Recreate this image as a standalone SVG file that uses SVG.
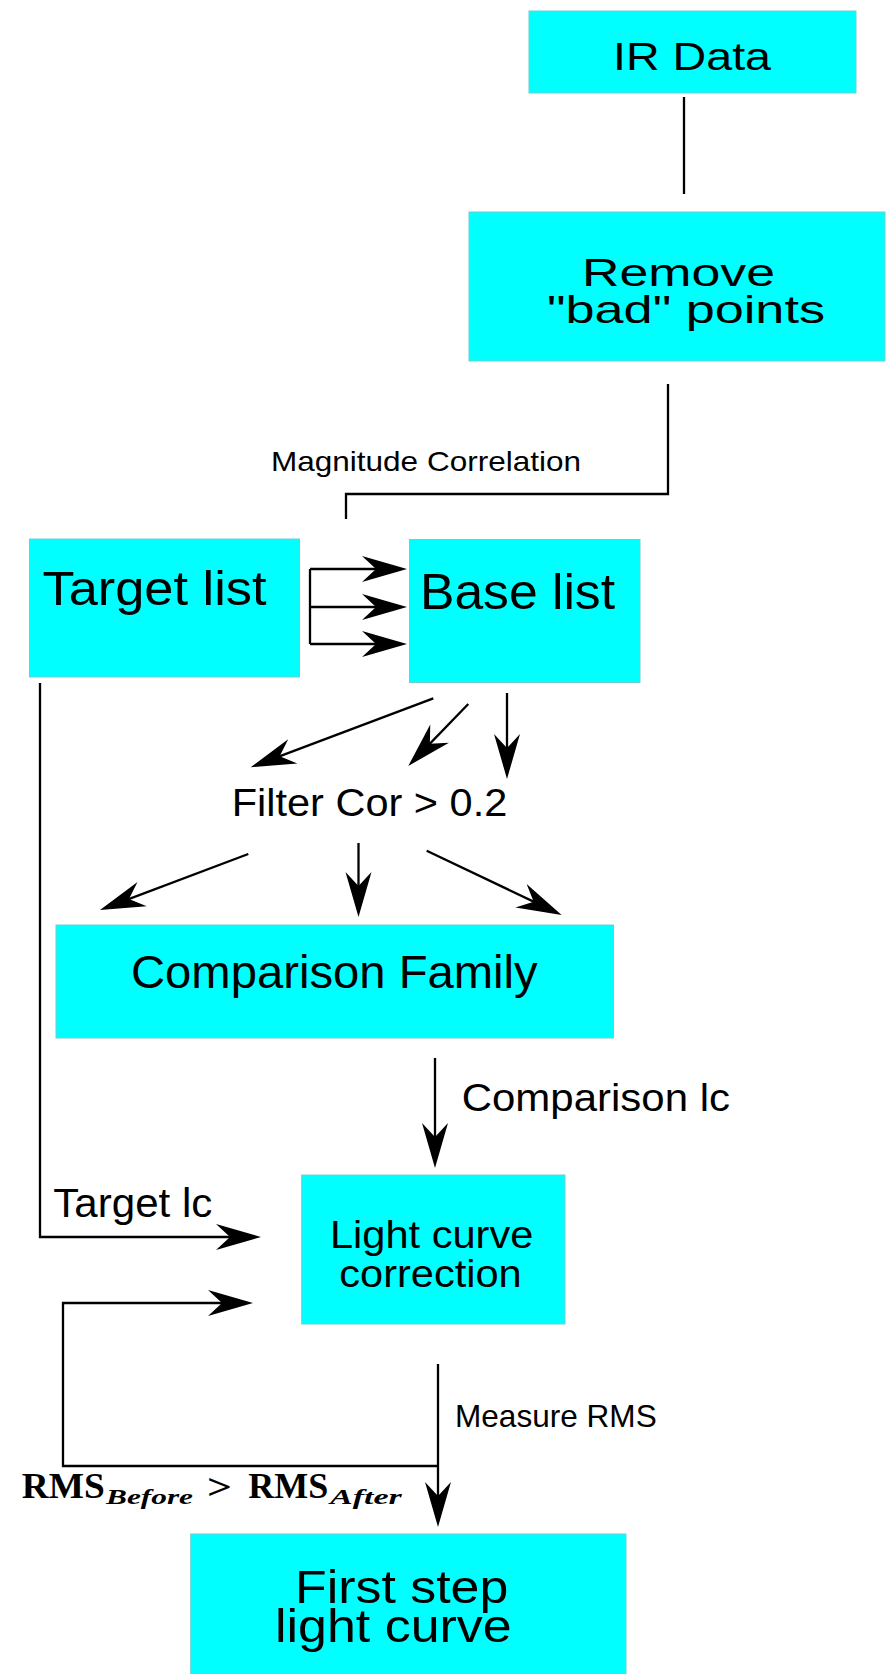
<svg xmlns="http://www.w3.org/2000/svg" width="887" height="1674" viewBox="0 0 887 1674">
<defs>
<style>
.box{fill:#00ffff;stroke:#6fcfcf;stroke-width:1}
.t{font-family:"Liberation Sans",Arial,Helvetica,sans-serif;fill:#000}
.m{font-family:"Liberation Serif","Times New Roman",serif;font-weight:bold;fill:#000}
.ln{fill:none;stroke:#000;stroke-width:2.3}
.ar{fill:none;stroke:#000;stroke-width:2.3;marker-end:url(#ah)}
</style>
<marker id="ah" markerUnits="userSpaceOnUse" markerWidth="50" markerHeight="30" viewBox="-46 -15 50 30" refX="-20" refY="0" orient="auto" overflow="visible">
<path d="M0,0 L-45,-13 L-31,0 L-45,13 Z" fill="#000"/>
</marker>
</defs>
<rect width="887" height="1674" fill="#fff"/>

<g id="connectors">
<line class="ln" x1="684" y1="97" x2="684" y2="194"/>
<polyline class="ln" points="668,384 668,494 346,494 346,519"/>
<line class="ln" x1="310" y1="569" x2="310" y2="644"/>
<line class="ar" x1="310" y1="569" x2="387" y2="569"/>
<line class="ar" x1="310" y1="607" x2="387" y2="607"/>
<line class="ar" x1="310" y1="644" x2="387" y2="644"/>
<line class="ar" x1="433.3" y1="698.3" x2="269.4" y2="760.2"/>
<line class="ar" x1="468.3" y1="704" x2="422.2" y2="751.6"/>
<line class="ar" x1="507" y1="693" x2="507" y2="759"/>
<line class="ar" x1="248.3" y1="854" x2="118.7" y2="902.9"/>
<line class="ar" x1="358.5" y1="843" x2="358.5" y2="897"/>
<line class="ar" x1="426.7" y1="850.7" x2="543.6" y2="906.4"/>
<line class="ar" x1="435" y1="1058" x2="435" y2="1148"/>
<polyline class="ar" points="40,683 40,1237 241,1237"/>
<polyline class="ar" points="438,1466 63,1466 63,1303 233,1303"/>
<line class="ar" x1="438" y1="1364" x2="438" y2="1507"/>
</g>

<g id="n-irdata">
<rect class="box" x="529" y="11" width="327" height="82"/>
<text class="t" x="613" y="70" font-size="38" textLength="158" lengthAdjust="spacingAndGlyphs">IR Data</text>
</g>

<g id="n-remove">
<rect class="box" x="469" y="212" width="416" height="149"/>
<text class="t" x="582" y="286" font-size="39" textLength="193" lengthAdjust="spacingAndGlyphs">Remove</text>
<text class="t" x="547" y="323" font-size="39" textLength="278" lengthAdjust="spacingAndGlyphs">"bad" points</text>
</g>

<g id="l-magnitude">
<text class="t" x="271" y="471" font-size="28" textLength="310" lengthAdjust="spacingAndGlyphs">Magnitude Correlation</text>
</g>

<g id="n-target">
<rect class="box" x="29.5" y="539" width="270" height="138"/>
<text class="t" x="42.5" y="605" font-size="49" textLength="224" lengthAdjust="spacingAndGlyphs">Target list</text>
</g>

<g id="n-base">
<rect class="box" x="409.5" y="539.5" width="230.5" height="143"/>
<text class="t" x="420" y="609" font-size="50" textLength="195" lengthAdjust="spacingAndGlyphs">Base list</text>
</g>

<g id="l-filter">
<text class="t" x="231.7" y="816" font-size="38.7" textLength="275.6" lengthAdjust="spacingAndGlyphs">Filter Cor &gt; 0.2</text>
</g>

<g id="n-family">
<rect class="box" x="56" y="925" width="557.5" height="113"/>
<text class="t" x="131" y="988" font-size="46" textLength="406.7" lengthAdjust="spacingAndGlyphs">Comparison Family</text>
</g>

<g id="l-complc">
<text class="t" x="461.7" y="1111" font-size="38.6" textLength="268.3" lengthAdjust="spacingAndGlyphs">Comparison lc</text>
</g>

<g id="l-targetlc">
<text class="t" x="53.3" y="1216.7" font-size="41" textLength="159" lengthAdjust="spacingAndGlyphs">Target lc</text>
</g>

<g id="n-correction">
<rect class="box" x="301.7" y="1175" width="263.3" height="149"/>
<text class="t" x="330" y="1248.3" font-size="39.5" textLength="203.3" lengthAdjust="spacingAndGlyphs">Light curve</text>
<text class="t" x="339.3" y="1286.7" font-size="39.5" textLength="182.4" lengthAdjust="spacingAndGlyphs">correction</text>
</g>

<g id="l-measure">
<text class="t" x="455" y="1426.7" font-size="31.7" textLength="201.7" lengthAdjust="spacingAndGlyphs">Measure RMS</text>
</g>

<g id="l-rms">
<text class="m" x="21.7" y="1498.3" font-size="35" textLength="83" lengthAdjust="spacingAndGlyphs">RMS</text>
<text class="m" x="106" y="1503.5" font-size="22" font-style="italic" textLength="87" lengthAdjust="spacingAndGlyphs">Before</text>
<text class="m" x="207" y="1499" font-size="35" textLength="25" lengthAdjust="spacingAndGlyphs">&gt;</text>
<text class="m" x="248.3" y="1498.3" font-size="35" textLength="80" lengthAdjust="spacingAndGlyphs">RMS</text>
<text class="m" x="330" y="1503.5" font-size="22" font-style="italic" textLength="71.7" lengthAdjust="spacingAndGlyphs">After</text>
</g>

<g id="n-firststep">
<rect class="box" x="190.7" y="1534" width="435.3" height="150"/>
<text class="t" x="295" y="1603.3" font-size="46.5" textLength="213.3" lengthAdjust="spacingAndGlyphs">First step</text>
<text class="t" x="275" y="1641.7" font-size="46.5" textLength="236.7" lengthAdjust="spacingAndGlyphs">light curve</text>
</g>
</svg>
